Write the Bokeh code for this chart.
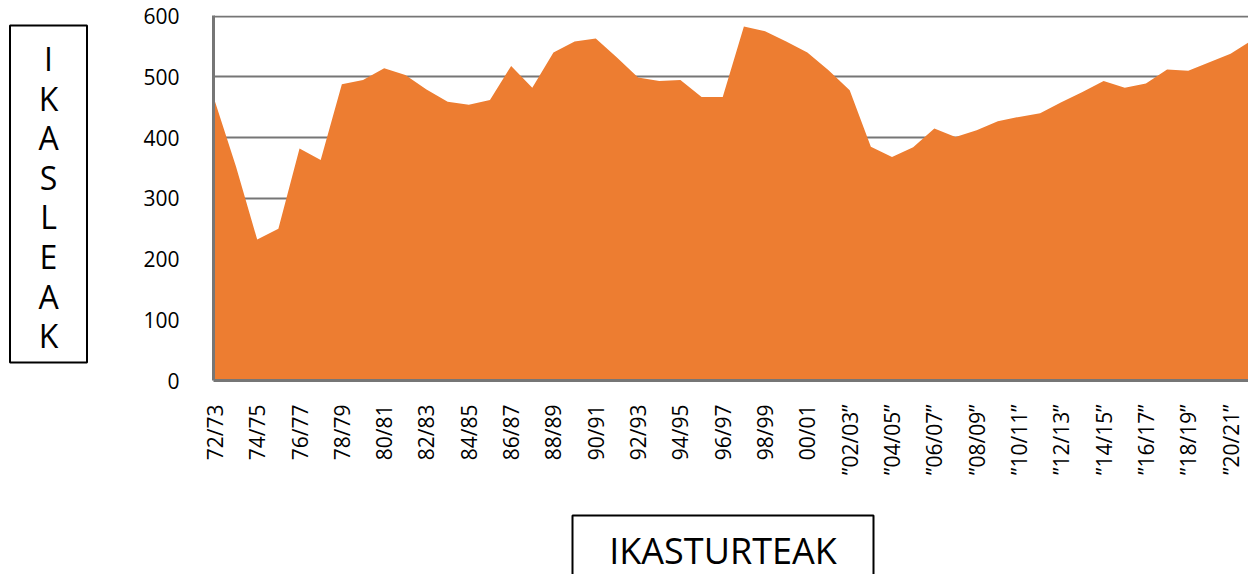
from bokeh.plotting import figure
from bokeh.models import ColumnDataSource, Range1d, FixedTicker
from bokeh.layouts import row, column
from bokeh.core.properties import value
from bokeh.embed import file_html
from bokeh.resources import INLINE

# ---- data ----
seasons = ["72/73", "73/74", "74/75", "75/76", "76/77", "77/78", "78/79", "79/80",
           "80/81", "81/82", "82/83", "83/84", "84/85", "85/86", "86/87", "87/88",
           "88/89", "89/90", "90/91", "91/92", "92/93", "93/94", "94/95", "95/96",
           "96/97", "97/98", "98/99", "99/00", "00/01", "01/02", "02/03", "03/04",
           "04/05", "05/06", "06/07", "07/08", "08/09", "09/10", "10/11", "11/12",
           "12/13", "13/14", "14/15", "15/16", "16/17", "17/18", "18/19", "19/20",
           "20/21", "21/22"]
students = [460, 352, 232, 250, 382, 363, 488, 495, 514, 503,
            479, 459, 454, 462, 518, 482, 540, 558, 563, 532,
            499, 493, 495, 467, 467, 583, 575, 558, 540, 511,
            478, 385, 368, 384, 415, 401, 412, 427, 434, 440,
            458, 475, 493, 482, 489, 512, 510, 524, 538, 560]
tick_labels = ["72/73", "74/75", "76/77", "78/79", "80/81", "82/83", "84/85", "86/87",
               "88/89", "90/91", "92/93", "94/95", "96/97", "98/99", "00/01",
               "\u201d02/03\u201d", "\u201d04/05\u201d", "\u201d06/07\u201d", "\u201d08/09\u201d",
               "\u201d10/11\u201d", "\u201d12/13\u201d", "\u201d14/15\u201d", "\u201d16/17\u201d",
               "\u201d18/19\u201d", "\u201d20/21\u201d"]
y_ticks = [0, 100, 200, 300, 400, 500, 600]
y_title_letters = ["I", "K", "A", "S", "L", "E", "A", "K"]
x_title = "IKASTURTEAK"

FONT = "Open Sans"
GRAY = "#767676"

# ---- main chart ----
LEFT_W = 100
PW, PH = 1248 - LEFT_W, 505
BORDER_L = 113
FRAME_L = LEFT_W + BORDER_L
x0 = -0.066
x1 = x0 + (1248 - FRAME_L) / 21.16

src = ColumnDataSource(dict(x=list(range(len(students))), y=students, season=seasons))

p = figure(width=PW, height=PH, output_backend="svg", toolbar_location=None,
           x_range=Range1d(x0, x1), y_range=Range1d(0, 601),
           min_border_left=BORDER_L, min_border_right=0, min_border_top=15, min_border_bottom=125)
p.outline_line_color = None
p.background_fill_color = "white"
p.border_fill_color = "white"

p.varea(x="x", y1=0, y2="y", source=src, fill_color="#ED7D31")

p.xgrid.visible = False
p.ygrid.ticker = FixedTicker(ticks=y_ticks)
p.ygrid.grid_line_color = GRAY
p.ygrid.grid_line_width = 2

p.yaxis.ticker = FixedTicker(ticks=y_ticks)
p.yaxis.axis_line_color = GRAY
p.yaxis.axis_line_width = 3
p.yaxis.major_tick_line_color = None
p.yaxis.minor_tick_line_color = None
p.yaxis.major_label_standoff = 28
p.yaxis.major_label_text_font = FONT
p.yaxis.major_label_text_font_size = "21px"
p.yaxis.major_label_text_color = "black"

xt = list(range(0, 2 * len(tick_labels), 2))
p.xaxis.ticker = FixedTicker(ticks=xt)
p.xaxis.major_label_overrides = {t: l for t, l in zip(xt, tick_labels)}
p.xaxis.major_label_orientation = 1.5707963
p.xaxis.axis_line_color = GRAY
p.xaxis.axis_line_width = 3
p.xaxis.major_tick_line_color = None
p.xaxis.minor_tick_line_color = None
p.xaxis.major_label_standoff = 18
p.xaxis.major_label_text_font = FONT
p.xaxis.major_label_text_font_size = "21px"
p.xaxis.major_label_text_color = "black"


def blank(fig):
    fig.axis.visible = False
    fig.grid.visible = False
    fig.outline_line_color = None
    fig.background_fill_color = "white"
    fig.border_fill_color = "white"
    return fig


# ---- left: vertical title in a box (page pixel coordinates) ----
fl = blank(figure(width=LEFT_W, height=574, output_backend="svg", toolbar_location=None,
                  x_range=Range1d(0, LEFT_W), y_range=Range1d(574, 0), min_border=0))
fl.quad(left=[9.5], right=[86.5], top=[25], bottom=[362],
        fill_color=None, line_color="black", line_width=2)
fl.text(x=[48] * len(y_title_letters),
        y=[58 + 39.6 * k for k in range(len(y_title_letters))],
        text=y_title_letters, text_align="center", text_baseline="middle",
        text_font=value(FONT), text_font_size="32px", text_color="black")

# ---- bottom: x title in a box (page pixel coordinates; frame aligned with main frame) ----
fb = blank(figure(width=PW, height=574 - PH, output_backend="svg", toolbar_location=None,
                  x_range=Range1d(FRAME_L, 1248), y_range=Range1d(574, PH), min_border=0))
fb.quad(left=[572], right=[873], top=[515], bottom=[600],
        fill_color=None, line_color="black", line_width=2)
fb.text(x=[722.5], y=[550], text=[x_title], text_align="center", text_baseline="middle",
        text_font=value(FONT), text_font_size="36px", text_color="black")

layout = row(fl, column(p, fb))
open("out.html", "w").write(file_html(layout, INLINE))
